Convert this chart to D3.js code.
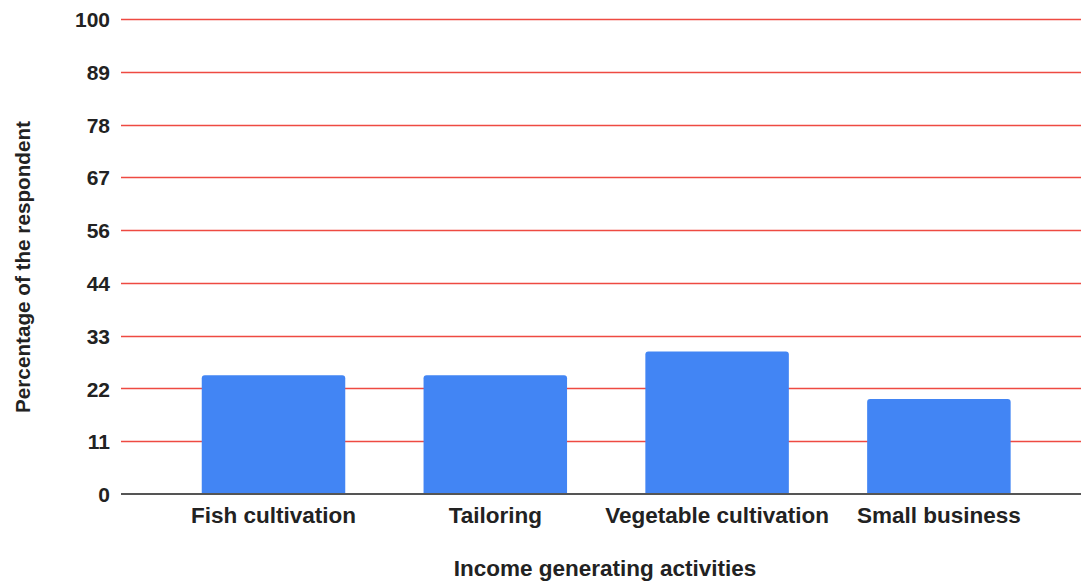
<!DOCTYPE html>
<html>
<head>
<meta charset="utf-8">
<script src="https://cdn.jsdelivr.net/npm/d3@7"></script>
<style>
  html, body { margin: 0; padding: 0; background: #fff; }
  svg { display: block; }
  text { font-family: "Liberation Sans", Arial, sans-serif; font-weight: bold; fill: #222; }
</style>
</head>
<body>
<svg id="chart" width="1081" height="583"></svg>
<script>
// Income generating activities and share of respondents (%)
const categories = ["Fish cultivation", "Tailoring", "Vegetable cultivation", "Small business"];
const values = [25, 25, 30, 20];
const tickValues = [0, 100/9, 200/9, 300/9, 400/9, 500/9, 600/9, 700/9, 800/9, 100];
const tickLabels = ["0", "11", "22", "33", "44", "56", "67", "78", "89", "100"];

const svg = d3.select("#chart");
const W = 1081, H = 583;
const plot = { left: 121, right: 1081, top: 19, bottom: 494 };

const y = d3.scaleLinear().domain([0, 100]).range([plot.bottom, plot.top]);
const x = d3.scaleBand()
  .domain(categories)
  .range([162.6, 1049.8])
  .paddingInner(0.353)
  .paddingOuter(0.1765);

// horizontal gridlines
svg.append("g")
  .selectAll("line")
  .data(tickValues.slice(1))
  .join("line")
  .attr("x1", plot.left)
  .attr("x2", plot.right)
  .attr("y1", d => Math.round(y(d)) + 0.5)
  .attr("y2", d => Math.round(y(d)) + 0.5)
  .attr("stroke", "#ee4a42")
  .attr("stroke-width", 1.6);

// y axis labels
const yAxis = d3.axisLeft(y)
  .tickValues(tickValues)
  .tickFormat((d, i) => tickLabels[i])
  .tickSize(0)
  .tickPadding(0);
const gy = svg.append("g")
  .attr("transform", `translate(110,0)`)
  .call(yAxis);
gy.select(".domain").remove();
gy.selectAll("text")
  .style("font-size", "21px")
  .attr("fill", "#222")
  .attr("dy", "0.36em");

// bars with slightly rounded tops
const r = 3;
svg.append("g")
  .selectAll("path")
  .data(values)
  .join("path")
  .attr("fill", "#4285f4")
  .attr("d", (d, i) => {
    const x0 = x(categories[i]), w = x.bandwidth();
    const yt = y(d), yb = y(0);
    return `M${x0},${yb}V${yt + r}Q${x0},${yt} ${x0 + r},${yt}H${x0 + w - r}Q${x0 + w},${yt} ${x0 + w},${yt + r}V${yb}Z`;
  });

// baseline
svg.append("line")
  .attr("x1", plot.left)
  .attr("x2", plot.right)
  .attr("y1", y(0))
  .attr("y2", y(0))
  .attr("stroke", "#555")
  .attr("stroke-width", 2);

// x axis labels
const xAxis = d3.axisBottom(x).tickSize(0).tickPadding(0);
const gx = svg.append("g")
  .attr("transform", `translate(0,523)`)
  .call(xAxis);
gx.select(".domain").remove();
gx.selectAll("text")
  .style("font-size", "22.5px")
  .attr("fill", "#222")
  .attr("dy", "0");

// axis titles
svg.append("text")
  .attr("x", 605)
  .attr("y", 576)
  .attr("text-anchor", "middle")
  .style("font-size", "22.5px")
  .text("Income generating activities");

svg.append("text")
  .attr("transform", "translate(30,267) rotate(-90)")
  .attr("text-anchor", "middle")
  .style("font-size", "20.7px")
  .text("Percentage of the respondent");
</script>
</body>
</html>
